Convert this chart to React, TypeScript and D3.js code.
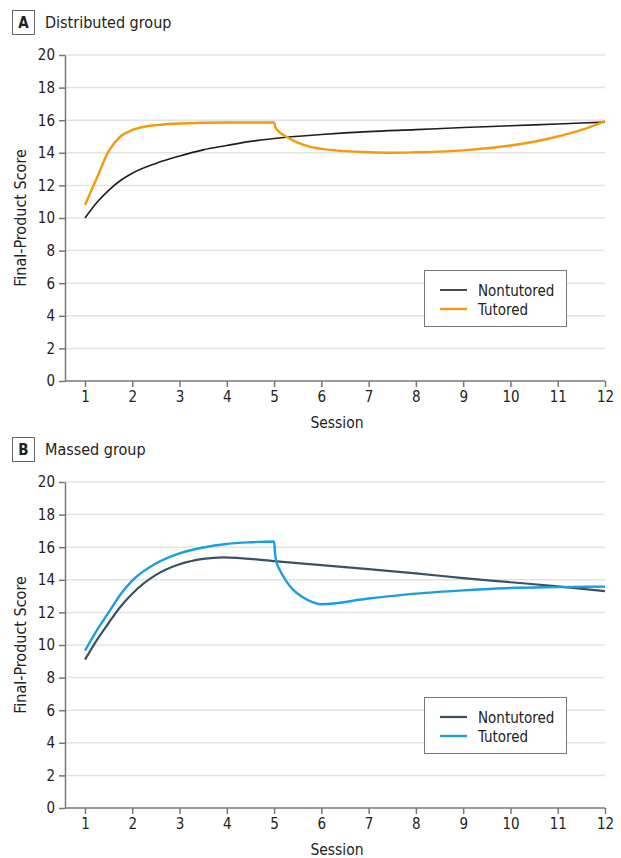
import React, { useEffect, useRef } from "react";
import * as d3 from "d3";

// sessions on the x axis and y ticks
const sessionTicks = [1, 2, 3, 4, 5, 6, 7, 8, 9, 10, 11, 12];
const scoreTicks = [0, 2, 4, 6, 8, 10, 12, 14, 16, 18, 20];

// Panel A: distributed group
const distNontutoredX = [1, 1.25, 1.5, 1.75, 2, 2.5, 3, 3.5, 4, 4.5, 5, 6, 7, 8, 9, 10, 11, 12];
const distNontutoredY = [10.0, 10.95, 11.7, 12.3, 12.75, 13.35, 13.8, 14.18, 14.45, 14.7, 14.88, 15.12, 15.3, 15.42, 15.55, 15.66, 15.77, 15.88];
const distTutoredX = [1, 1.25, 1.5, 1.75, 2, 2.25, 2.5, 3, 4, 5, 5.03, 5.1, 5.25, 5.5, 5.75, 6, 6.5, 7, 7.5, 8, 9, 10, 10.5, 11, 11.5, 12];
const distTutoredY = [10.8, 12.45, 14.1, 15.0, 15.4, 15.6, 15.7, 15.8, 15.86, 15.86, 15.55, 15.3, 15.0, 14.62, 14.38, 14.24, 14.1, 14.03, 14.0, 14.03, 14.15, 14.45, 14.68, 15.0, 15.4, 15.95];

// Panel B: massed group
const massNontutoredX = [1, 1.25, 1.5, 1.75, 2, 2.5, 3, 3.5, 3.92, 5, 6, 7, 8, 9, 10, 11, 12];
const massNontutoredY = [9.1, 10.3, 11.35, 12.35, 13.15, 14.3, 14.95, 15.28, 15.38, 15.15, 14.9, 14.65, 14.4, 14.1, 13.85, 13.6, 13.3];
const massTutoredX = [1, 1.25, 1.5, 1.75, 2, 2.5, 3, 3.5, 4, 4.5, 5, 5.02, 5.06, 5.12, 5.25, 5.4, 5.6, 5.8, 6, 7, 8, 9, 10, 11, 12];
const massTutoredY = [9.65, 10.9, 12.0, 13.1, 13.95, 15.0, 15.62, 15.98, 16.2, 16.3, 16.35, 15.6, 15.0, 14.6, 13.95, 13.4, 12.95, 12.65, 12.5, 12.85, 13.15, 13.35, 13.5, 13.55, 13.58];

const panels = [
  {
    letter: "A",
    title: "Distributed group",
    top: 0,
    nontutoredColor: "#1e1e1e",
    tutoredColor: "#f39a10",
    nontutored: distNontutoredX.map((x, i) => ({ x, y: distNontutoredY[i] })),
    tutored: distTutoredX.map((x, i) => ({ x, y: distTutoredY[i] })),
  },
  {
    letter: "B",
    title: "Massed group",
    top: 427,
    nontutoredColor: "#3a5260",
    tutoredColor: "#1a9fdc",
    nontutored: massNontutoredX.map((x, i) => ({ x, y: massNontutoredY[i] })),
    tutored: massTutoredX.map((x, i) => ({ x, y: massTutoredY[i] })),
  },
];

const FONT = "'Liberation Sans Narrow', 'DejaVu Sans Condensed', sans-serif";

const Chart = ({ width, height }: { width: number; height: number }) => {
  const svgRef = useRef<SVGSVGElement>(null);

  useEffect(() => {
    const svg = d3.select(svgRef.current);
    svg.selectAll("*").remove();

    const xScale = d3.scaleLinear().domain([1, 12]).range([85, 605]);

    panels.forEach((p) => {
      const g = svg.append("g").attr("transform", `translate(0,${p.top})`);
      const yScale = d3.scaleLinear().domain([0, 20]).range([381, 55]);

      // Panel heading
      g.append("rect")
        .attr("x", 12.5)
        .attr("y", 10.5)
        .attr("width", 22)
        .attr("height", 24)
        .attr("fill", "white")
        .attr("stroke", "#666")
        .attr("stroke-width", 1);
      g.append("text")
        .attr("x", 23.5)
        .attr("y", 28)
        .attr("text-anchor", "middle")
        .style("font-family", FONT)
        .style("font-size", "15px")
        .style("font-weight", "bold")
        .style("fill", "#222")
        .text(p.letter);
      g.append("text")
        .attr("x", 45)
        .attr("y", 28)
        .style("font-family", FONT)
        .style("font-size", "16px")
        .style("fill", "#222")
        .text(p.title);

      // Grid lines
      g.append("g")
        .selectAll("line")
        .data(scoreTicks.filter((t) => t > 0))
        .enter()
        .append("line")
        .attr("x1", 65)
        .attr("x2", 605)
        .attr("y1", (d) => yScale(d))
        .attr("y2", (d) => yScale(d))
        .style("stroke", "#e3e3e3")
        .style("stroke-width", 1.5);

      // Y axis
      const yAxis = g.append("g")
        .attr("transform", "translate(65,0)")
        .call(d3.axisLeft(yScale).tickValues(scoreTicks).tickSize(6).tickPadding(4).tickSizeOuter(0));
      yAxis.select(".domain").style("stroke", "#777").style("stroke-width", 1.5);
      yAxis.selectAll(".tick line").style("stroke", "#777").style("stroke-width", 1.5);
      yAxis.selectAll("text")
        .style("font-family", FONT)
        .style("font-size", "15px")
        .style("fill", "#222");

      // X axis
      const xAxis = g.append("g")
        .attr("transform", "translate(0,381)")
        .call(d3.axisBottom(xScale).tickValues(sessionTicks).tickSize(6).tickPadding(4).tickSizeOuter(0));
      xAxis.select(".domain").attr("d", "M65,0H605").style("stroke", "#777").style("stroke-width", 1.5);
      xAxis.selectAll(".tick line").style("stroke", "#777").style("stroke-width", 1.5);
      xAxis.selectAll("text")
        .style("font-family", FONT)
        .style("font-size", "15px")
        .style("fill", "#222");

      // Axis titles
      g.append("text")
        .attr("x", 337)
        .attr("y", 428)
        .attr("text-anchor", "middle")
        .style("font-family", FONT)
        .style("font-size", "15.5px")
        .style("fill", "#222")
        .text("Session");
      g.append("text")
        .attr("transform", "rotate(-90)")
        .attr("x", -218)
        .attr("y", 26)
        .attr("text-anchor", "middle")
        .style("font-family", FONT)
        .style("font-size", "16px")
        .style("fill", "#222")
        .text("Final-Product Score");

      // Lines
      const line = d3.line<{ x: number; y: number }>()
        .x((d) => xScale(d.x))
        .y((d) => yScale(d.y))
        .curve(d3.curveMonotoneX);

      g.append("path")
        .datum(p.nontutored)
        .attr("d", line)
        .attr("fill", "none")
        .attr("stroke", p.nontutoredColor)
        .attr("stroke-width", p.letter === "A" ? 1.6 : 2.2);
      g.append("path")
        .datum(p.tutored)
        .attr("d", line)
        .attr("fill", "none")
        .attr("stroke", p.tutoredColor)
        .attr("stroke-width", 2.4);

      // Legend
      const legend = g.append("g").attr("transform", "translate(424,270)");
      legend.append("rect")
        .attr("x", 0.5)
        .attr("y", 0.5)
        .attr("width", 142)
        .attr("height", 56)
        .attr("fill", "white")
        .attr("stroke", "#777")
        .attr("stroke-width", 1);
      [
        { label: "Nontutored", color: p.nontutoredColor, w: p.letter === "A" ? 1.6 : 2.2 },
        { label: "Tutored", color: p.tutoredColor, w: 2.4 },
      ].forEach((item, i) => {
        const row = legend.append("g").attr("transform", `translate(0,${20 + i * 19})`);
        row.append("line")
          .attr("x1", 16)
          .attr("x2", 43)
          .attr("y1", 0)
          .attr("y2", 0)
          .attr("stroke", item.color)
          .attr("stroke-width", item.w);
        row.append("text")
          .attr("x", 54)
          .attr("y", 5.5)
          .style("font-family", FONT)
          .style("font-size", "15px")
          .style("fill", "#222")
          .text(item.label);
      });
    });
  }, [width, height]);

  return (
    <svg
      ref={svgRef}
      width={width}
      height={height}
      style={{ display: "block", position: "absolute", top: 0, left: 0, background: "white" }}
    ></svg>
  );
};

export default function App() {
  return <Chart width={621} height={858} />;
}
